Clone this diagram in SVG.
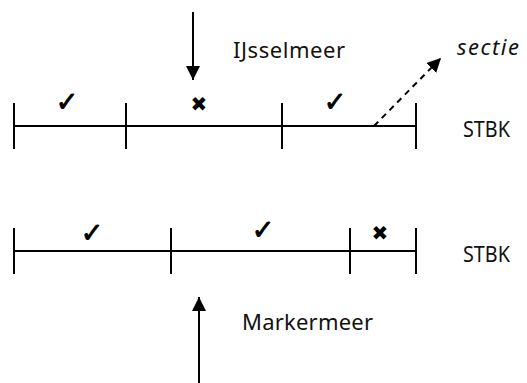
<svg xmlns="http://www.w3.org/2000/svg" width="527" height="383" viewBox="0 0 527 383">
  <style>
    .bar { stroke: #000; stroke-width: 2; fill: none; }
    .lbl { font-family: "Noto Sans", "Open Sans", sans-serif; font-size: 22px; fill: #111; }
    .it { font-style: italic; }
    .mark { font-family: "DejaVu Sans", sans-serif; font-size: 27px; fill: #000; stroke: #000; stroke-width: 0.9; text-anchor: middle; }
    .cross { font-family: "DejaVu Sans", sans-serif; font-size: 20px; fill: #000; text-anchor: middle; }
    .flow { stroke: #000; stroke-width: 2; fill: none; }
    .dash { stroke: #000; stroke-width: 2; fill: none; stroke-dasharray: 6 5; }
  </style>
  <defs>
    <marker id="head" viewBox="0 0 10 10" refX="10" refY="5" markerWidth="7" markerHeight="7" markerUnits="strokeWidth" orient="auto">
      <path d="M0,0 L10,5 L0,10 z" fill="#000"/>
    </marker>
  </defs>

  <!-- upper STBK chain -->
  <g id="stbk-top">
    <path class="bar" d="M14,126 H416 M14,103 V149 M126,103 V149 M282,103 V149 M416,103 V149"/>
    <text class="mark" x="67" y="111">✓</text>
    <text class="cross" x="199" y="111">✖</text>
    <text class="mark" x="335" y="111">✓</text>
    <text class="lbl" x="463" y="137" textLength="47" lengthAdjust="spacingAndGlyphs">STBK</text>
  </g>

  <!-- lower STBK chain -->
  <g id="stbk-bottom">
    <path class="bar" d="M14,251 H416 M14,228 V274 M171,228 V274 M350,228 V274 M416,228 V274"/>
    <text class="mark" x="92" y="242">✓</text>
    <text class="mark" x="263" y="239">✓</text>
    <text class="cross" x="380" y="240">✖</text>
    <text class="lbl" x="463" y="262" textLength="47" lengthAdjust="spacingAndGlyphs">STBK</text>
  </g>

  <g id="label-ijsselmeer">
    <text class="lbl" x="233" y="58" textLength="112">IJsselmeer</text>
  </g>
  <g id="label-markermeer">
    <text class="lbl" x="242" y="330" textLength="131">Markermeer</text>
  </g>
  <g id="label-sectie">
    <text class="lbl it" x="457" y="55" textLength="62">sectie</text>
  </g>

  <!-- connectors -->
  <g id="connectors">
    <line class="flow" x1="193" y1="12" x2="193" y2="80" marker-end="url(#head)"/>
    <line class="flow" x1="199" y1="383" x2="199" y2="297" marker-end="url(#head)"/>
    <line class="dash" x1="374" y1="126" x2="441" y2="58" marker-end="url(#head)"/>
  </g>
</svg>
